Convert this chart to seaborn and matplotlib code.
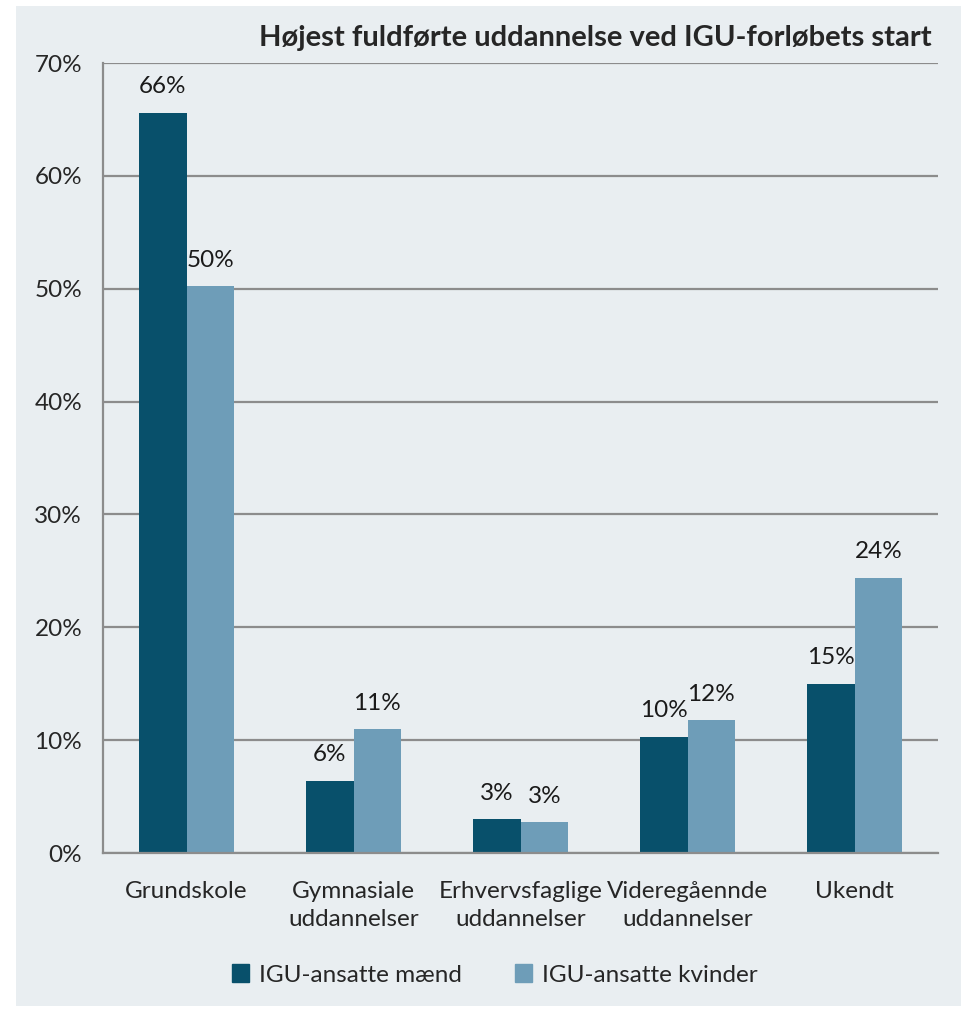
import matplotlib
matplotlib.use("Agg")
import matplotlib.pyplot as plt
import matplotlib.patches as mpatches
import pandas as pd
import seaborn as sns

sns.set_style("white")
plt.rcParams['font.family'] = ['Lato', 'DejaVu Sans']

categories = ["Grundskole", "Gymnasiale\nuddannelser", "Erhvervsfaglige\nuddannelser",
              "Videregåennde\nuddannelser", "Ukendt"]
series = ["IGU-ansatte mænd", "IGU-ansatte kvinder"]
maend = [65.6, 6.4, 3.0, 10.3, 15.0]
kvinder = [50.2, 11.0, 2.75, 11.8, 24.4]
colors = ["#08506B", "#6E9DB8"]
bg = "#E9EEF1"

df = pd.DataFrame({
    "kategori": categories * 2,
    "gruppe": [series[0]] * 5 + [series[1]] * 5,
    "andel": maend + kvinder,
})

fig = plt.figure(figsize=(9.61, 10.09), dpi=100)
fig.patch.set_facecolor("white")
fig.patches.append(mpatches.Rectangle((16 / 961, 3 / 1009), 945 / 961, 1000 / 1009,
                                      transform=fig.transFigure, facecolor=bg,
                                      edgecolor="none", zorder=-10))

ax = fig.add_axes([103 / 961, 156 / 1009, 835 / 961, 790 / 1009])
ax.set_facecolor(bg)
sns.barplot(data=df, x="kategori", y="andel", hue="gruppe", palette=colors,
            width=0.57, gap=0, ax=ax, saturation=1, legend=False, linewidth=0)

for container in ax.containers:
    ax.bar_label(container, labels=[f"{v:.0f}%" for v in container.datavalues],
                 padding=11, fontsize=17.5, color="#1a1a1a")

ax.set_ylim(0, 70)
ax.set_xlim(-0.5, 4.5)
ax.set_yticks(range(0, 71, 10))
ax.set_yticklabels([f"{t}%" for t in range(0, 71, 10)], fontsize=17.5)
ax.yaxis.grid(True, color="#8C8C8C", linewidth=1.6)
ax.set_axisbelow(True)
ax.set_xlabel("")
ax.set_ylabel("")

ax.set_xticks([i - 0.5 for i in range(6)])
ax.set_xticklabels([])
ax.set_xticks(range(5), minor=True)
ax.set_xticklabels(categories, minor=True, fontsize=17.5, linespacing=1.4)
ax.tick_params(axis="x", which="minor", length=0, pad=20)
ax.tick_params(axis="x", which="major", length=8, width=1.6, color="#8C8C8C", direction="out")
ax.tick_params(axis="y", length=7, width=1.6, color="#8C8C8C", direction="out", pad=8)

for s in ["top", "right"]:
    ax.spines[s].set_visible(False)
for s in ["left", "bottom"]:
    ax.spines[s].set_color("#8C8C8C")
    ax.spines[s].set_linewidth(1.6)

fig.text(932 / 961, 1 - 38 / 1009, "Højest fuldførte uddannelse ved IGU-forløbets start",
         ha="right", va="center", fontsize=21, fontweight="bold")

handles = [mpatches.Patch(color=c, label=s) for c, s in zip(colors, series)]
fig.legend(handles=handles, loc="center", bbox_to_anchor=(0.515, 1 - 975 / 1009), ncol=2,
           frameon=False, fontsize=17.5, handlelength=0.7, handleheight=0.7,
           handletextpad=0.4, columnspacing=2.2)

fig.savefig("out.png", dpi=100, facecolor=fig.get_facecolor())
